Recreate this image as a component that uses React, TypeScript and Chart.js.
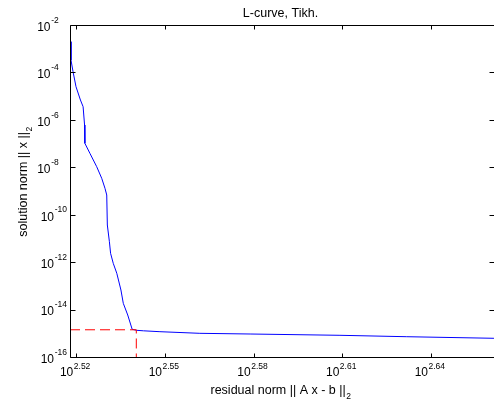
import React, { useEffect, useRef } from "react";
import { Chart, registerables } from "chart.js";

Chart.register(...registerables);

// ---- data (log10 of the plotted values) ----
const titleText = "L-curve, Tikh.";
const xAxisTitle = "residual norm || A x - b ||";
const yAxisTitle = "solution norm || x ||";
const axisTitleSubscript = "2";

const residualLog10 = [
  2.5182, 2.5182, 2.5189, 2.5199, 2.5214, 2.5223, 2.5228, 2.5229, 2.5246, 2.5269,
  2.5286, 2.5297, 2.5303, 2.5305, 2.5312, 2.5316, 2.5325, 2.5337, 2.5351, 2.5359,
  2.5374, 2.5389, 2.5404, 2.5427, 2.5483, 2.5618, 2.5788, 2.6092, 2.6318, 2.6613,
];
const solutionLog10 = [
  -2.662, -3.434, -3.927, -4.56, -5.121, -5.403, -6.175, -6.946, -7.368, -7.933,
  -8.422, -8.844, -9.127, -10.392, -11.096, -11.585, -12.007, -12.428, -13.133, -13.694,
  -14.187, -14.79, -14.832, -14.853, -14.891, -14.959, -14.988, -15.043, -15.102, -15.169,
];

const cornerResidualLog10 = 2.5403;
const cornerSolutionLog10 = -14.81;

const xTickExponents = ["2.52", "2.55", "2.58", "2.61", "2.64"];
const yTickExponents = ["-16", "-14", "-12", "-10", "-8", "-6", "-4", "-2"];

const xMinLog10 = 2.51787;
const xMaxLog10 = 2.66131;
const yMinLog10 = -16;
const yMaxLog10 = -2;

const FONT = "'Liberation Sans', Arial, Helvetica, sans-serif";

const axesPlugin = {
  id: "matlabAxes",
  afterDraw(chart: any) {
    const { ctx, chartArea: a, scales } = chart;
    const xs = scales.x;
    const ys = scales.y;
    ctx.save();
    ctx.strokeStyle = "#000";
    ctx.lineWidth = 1;
    const L = a.left + 0.5;
    const T = a.top - 0.5;
    const B = a.bottom - 0.5;
    const R = a.right + 0.5;
    ctx.beginPath();
    ctx.moveTo(L, T);
    ctx.lineTo(R, T);
    ctx.moveTo(L, T);
    ctx.lineTo(L, B);
    ctx.lineTo(R, B);
    ctx.lineTo(R, T);
    ctx.stroke();

    // x ticks
    ctx.beginPath();
    for (const e of xTickExponents) {
      const px = Math.round(xs.getPixelForValue(Math.pow(10, parseFloat(e)))) + 0.5;
      ctx.moveTo(px, B);
      ctx.lineTo(px, B - 4);
      ctx.moveTo(px, T);
      ctx.lineTo(px, T + 4);
    }
    // y ticks
    for (const e of yTickExponents) {
      const py = Math.round(ys.getPixelForValue(Math.pow(10, parseFloat(e)))) - 0.5;
      ctx.moveTo(L, py);
      ctx.lineTo(L + 5, py);
      ctx.moveTo(R, py);
      ctx.lineTo(R - 5, py);
    }
    ctx.stroke();

    ctx.fillStyle = "#000";
    const baseFont = `12px ${FONT}`;
    const expFont = `8.5px ${FONT}`;
    const labelFont = `12.5px ${FONT}`;

    // x tick labels
    for (const e of xTickExponents) {
      const px = xs.getPixelForValue(Math.pow(10, parseFloat(e)));
      const baseRight = px - 3;
      ctx.font = baseFont;
      ctx.textAlign = "right";
      ctx.textBaseline = "alphabetic";
      ctx.fillText("10", baseRight, 376);
      ctx.font = expFont;
      ctx.textAlign = "left";
      ctx.fillText(e, baseRight + 0.5, 368.5);
    }

    // y tick labels
    for (const e of yTickExponents) {
      const py = ys.getPixelForValue(Math.pow(10, parseFloat(e)));
      const baseRight = 50.5 + (e.length - 2) * 3.5;
      ctx.font = baseFont;
      ctx.textAlign = "right";
      ctx.textBaseline = "alphabetic";
      ctx.fillText("10", baseRight, py + 4.8);
      ctx.font = expFont;
      ctx.textAlign = "left";
      ctx.fillText(e, baseRight + 0.7, py - 3.3);
    }

    // title
    ctx.font = labelFont;
    ctx.textAlign = "center";
    ctx.fillText(titleText, 280.5, 17);

    // x axis title with subscript
    ctx.font = labelFont;
    const wx = ctx.measureText(xAxisTitle).width;
    ctx.font = expFont;
    const ws = ctx.measureText(axisTitleSubscript).width;
    const xStart = 280.5 - (wx + ws) / 2;
    ctx.font = labelFont;
    ctx.textAlign = "left";
    ctx.fillText(xAxisTitle, xStart, 394);
    ctx.font = expFont;
    ctx.fillText(axisTitleSubscript, xStart + wx + 0.5, 399);

    // y axis title rotated
    ctx.save();
    ctx.translate(26.5, 182);
    ctx.rotate(-Math.PI / 2);
    ctx.font = labelFont;
    const wy = ctx.measureText(yAxisTitle).width;
    const yStart = -(wy + ws) / 2;
    ctx.textAlign = "left";
    ctx.fillText(yAxisTitle, yStart, 0);
    ctx.font = expFont;
    ctx.fillText(axisTitleSubscript, yStart + wy + 0.5, 5);
    ctx.restore();

    ctx.restore();
  },
};

export default function App() {
  const canvasRef = useRef<HTMLCanvasElement | null>(null);

  useEffect(() => {
    const canvas = canvasRef.current;
    if (!canvas) return;
    const curve = residualLog10.map((r, i) => ({
      x: Math.pow(10, r),
      y: Math.pow(10, solutionLog10[i]),
    }));
    const corner = [
      { x: Math.pow(10, xMinLog10), y: Math.pow(10, cornerSolutionLog10) },
      { x: Math.pow(10, cornerResidualLog10), y: Math.pow(10, cornerSolutionLog10) },
      { x: Math.pow(10, cornerResidualLog10), y: Math.pow(10, yMinLog10) },
    ];
    const chart = new Chart(canvas, {
      type: "line",
      data: {
        datasets: [
          {
            label: "corner",
            data: corner,
            borderColor: "#ff0000",
            borderWidth: 1,
            borderDash: [10, 5],
            pointRadius: 0,
            tension: 0,
            fill: false,
          },
          {
            label: "L-curve",
            data: curve,
            borderColor: "#0000ff",
            borderWidth: 1,
            pointRadius: 0,
            tension: 0,
            fill: false,
          },
        ],
      },
      options: {
        animation: false,
        responsive: false,
        maintainAspectRatio: false,
        devicePixelRatio: 1,
        parsing: false as any,
        layout: { padding: { left: 70, top: 26, right: 0, bottom: 45 } },
        plugins: {
          legend: { display: false },
          tooltip: { enabled: false },
          title: { display: false },
        },
        scales: {
          x: {
            type: "logarithmic",
            min: Math.pow(10, xMinLog10),
            max: Math.pow(10, xMaxLog10),
            display: false,
          },
          y: {
            type: "logarithmic",
            min: Math.pow(10, yMinLog10),
            max: Math.pow(10, yMaxLog10),
            display: false,
          },
        },
      },
      plugins: [axesPlugin],
    });
    return () => chart.destroy();
  }, []);

  return (
    <div style={{ position: "fixed", left: 0, top: 0, width: 494, height: 403, background: "#fff" }}>
      <canvas ref={canvasRef} width={494} height={403} style={{ width: 494, height: 403 }} />
    </div>
  );
}
